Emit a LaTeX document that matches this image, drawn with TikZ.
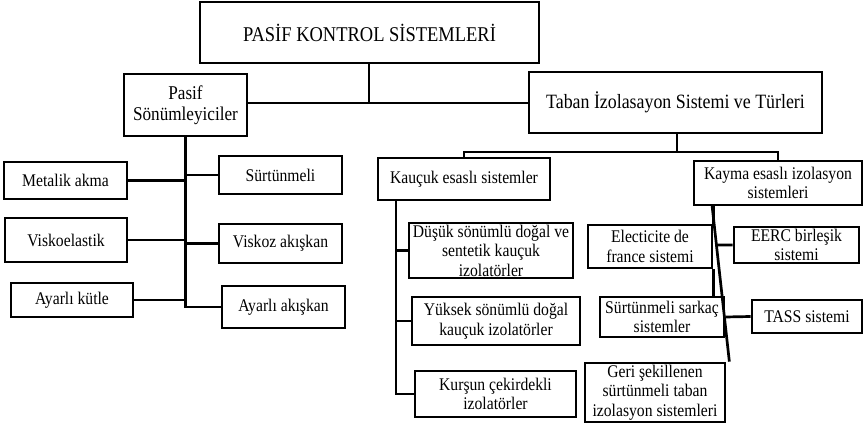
\documentclass[tikz,border=0pt]{standalone}
\usepackage{fontspec}
\setmainfont[FakeStretch=0.88]{Liberation Serif}
\usetikzlibrary{calc}
\tikzset{
  box/.style={draw, line width=2.7pt, align=center, inner sep=0pt,
    font=\fontsize{17.8}{19.5}\selectfont},
  link/.style={line width=2.7pt},
}
\begin{document}
\begin{tikzpicture}[x=1pt,y=-1pt]
\useasboundingbox (0,0) rectangle (864,427);

% top level
\node[box, minimum width=339pt, minimum height=61pt, font=\fontsize{21}{23}\selectfont] (title) at (369.5,32.5) {PASİF KONTROL SİSTEMLERİ};
\node[box, minimum width=123pt, minimum height=62pt, font=\fontsize{19.5}{21.5}\selectfont] (pasif) at (185.5,105) {Pasif\\Sönümleyiciler};
\node[box, minimum width=293pt, minimum height=61pt, font=\fontsize{20.3}{22}\selectfont] (taban) at (675.5,102.5) {Taban İzolasayon Sistemi ve Türleri};

% passive dampers
\node[box, minimum width=123pt, minimum height=37pt] (metalik) at (65.5,180.5) {Metalik akma};
\node[box, minimum width=123pt, minimum height=38pt] (surt) at (280.5,175) {Sürtünmeli};
\node[box, minimum width=122pt, minimum height=44pt] (visko) at (66,240) {Viskoelastik};
\node[box, minimum width=123pt, minimum height=39pt] (viskoz) at (280.5,243.5) {Viskoz akışkan};
\node[box, minimum width=122pt, minimum height=34pt] (kutle) at (72,300) {Ayarlı kütle};
\node[box, minimum width=123pt, minimum height=42pt] (akiskan) at (283.5,307) {Ayarlı akışkan};

% base isolation families
\node[box, minimum width=172pt, minimum height=42pt] (kaucuk) at (464,179) {Kauçuk esaslı sistemler};
\node[box, minimum width=168pt, minimum height=44pt] (kayma) at (778,183) {Kayma esaslı izolasyon\\sistemleri};

% rubber based
\node[box, minimum width=164pt, minimum height=55pt] (dusuk) at (491,250.5) {Düşük sönümlü doğal ve\\sentetik kauçuk\\izolatörler};
\node[box, minimum width=168pt, minimum height=48pt] (yuksek) at (496,321) {Yüksek sönümlü doğal\\kauçuk izolatörler};
\node[box, minimum width=161pt, minimum height=46pt] (kursun) at (495.5,394) {Kurşun çekirdekli\\izolatörler};

% sliding based
\node[box, minimum width=124pt, minimum height=43pt] (elec) at (650,246.5) {Electicite de\\france sistemi};
\node[box, minimum width=125pt, minimum height=36pt] (eerc) at (796.5,245) {EERC birleşik\\sistemi};
\node[box, minimum width=124pt, minimum height=40pt] (sarkac) at (662,317) {Sürtünmeli sarkaç\\sistemler};
\node[box, minimum width=110pt, minimum height=33pt] (tass) at (807,316.5) {TASS sistemi};
\node[box, minimum width=140pt, minimum height=59pt] (geri) at (655,392.5) {Geri şekillenen\\sürtünmeli taban\\izolasyon sistemleri};

% connectors: top level
\coordinate (j1) at (369,103);
\draw[link] (title.south -| j1) -- (j1);
\draw[link] (pasif.east |- j1) -- (taban.west |- j1);

\coordinate (bus) at (677,152);
\draw[link] (taban.south -| bus) -- (bus);
\draw[link] (kaucuk.north) |- (bus) -| (kayma.north);

% connectors: passive dampers
\draw[link] (pasif.south) -- (pasif.south |- akiskan.west) -- (akiskan.west);
\draw[link] (metalik.east) -- (metalik.east -| pasif.south);
\draw[link] (surt.west) -- (surt.west -| pasif.south);
\draw[link] (visko.east) -- (visko.east -| pasif.south);
\draw[link] (viskoz.west) -- (viskoz.west -| pasif.south);
\draw[link] (kutle.east) -- (kutle.east -| pasif.south);

% connectors: rubber based
\coordinate (ks) at (396,200);
\draw[link] (ks) |- (kursun.west);
\draw[link] (ks |- dusuk.west) -- (dusuk.west);
\draw[link] (ks |- yuksek.west) -- (yuksek.west);

% connectors: sliding based
\draw[link] (elec.north east |- kayma.south) -- (elec.north east);
\draw[link] (elec.south east) -- (elec.south east |- sarkac.north);
\coordinate (sa) at (712,205);
\coordinate (sb) at ($(geri.north east)+(3,0)$);
\draw[link] (sa) -- (sb);
\coordinate (e1) at ($(eerc.west)+(-60,0)$);
\draw[link] (intersection of sa--sb and eerc.west--e1) -- (eerc.west);
\draw[link] (sarkac.east) -- (tass.west);
\end{tikzpicture}
\end{document}
